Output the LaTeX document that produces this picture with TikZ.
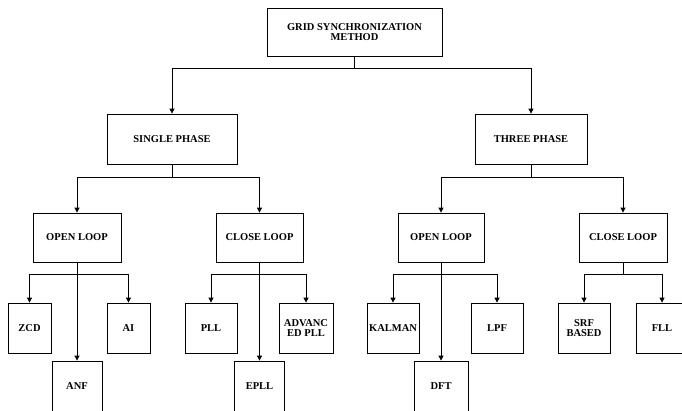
\documentclass[tikz,border=0pt]{standalone}
\usepackage{fontspec}
\setmainfont{Liberation Serif}
\usepackage{tikz}
\usetikzlibrary{arrows.meta}

\begin{document}
\begin{tikzpicture}[x=1pt, y=-1pt,
  box/.style={draw, line width=0.8pt, align=center, inner sep=1pt,
    font=\fontsize{10.5}{10.5}\selectfont\bfseries},
  link/.style={line width=0.8pt, -{Triangle[length=5pt, width=5pt]}}]
\useasboundingbox (0,0) rectangle (682,410);
\clip (0,0) rectangle (682,410);
% Root
\node[box, minimum width=175pt, minimum height=48pt] (root) at (354.5,32) {GRID SYNCHRONIZATION\\METHOD};
% Phases
\node[box, minimum width=130pt, minimum height=50pt] (single) at (172,139) {SINGLE PHASE};
\node[box, minimum width=112pt, minimum height=50pt] (three) at (531,139) {THREE PHASE};
% Loops
\node[box, minimum width=88pt, minimum height=49pt] (sopen) at (77,237.5) {OPEN LOOP};
\node[box, minimum width=87pt, minimum height=49pt] (sclose) at (259.5,237.5) {CLOSE LOOP};
\node[box, minimum width=86pt, minimum height=49pt] (topen) at (441,237.5) {OPEN LOOP};
\node[box, minimum width=88pt, minimum height=49pt] (tclose) at (623,237.5) {CLOSE LOOP};
% Methods
\node[box, minimum width=43pt, minimum height=50pt] (zcd) at (29.5,328) {ZCD};
\node[box, minimum width=43pt, minimum height=50pt] (ai) at (128.5,328) {AI};
\node[box, minimum width=50pt, minimum height=50pt] (anf) at (77,386) {ANF};
\node[box, minimum width=52pt, minimum height=50pt] (pll) at (211,328) {PLL};
\node[box, minimum width=54pt, minimum height=50pt] (apll) at (306,328) {ADVANC\\ED PLL};
\node[box, minimum width=50pt, minimum height=50pt] (epll) at (259.5,386) {EPLL};
\node[box, minimum width=52pt, minimum height=50pt] (kalman) at (393,328) {KALMAN};
\node[box, minimum width=52pt, minimum height=50pt] (lpf) at (497,328) {LPF};
\node[box, minimum width=54pt, minimum height=50pt] (dft) at (441,386) {DFT};
\node[box, minimum width=52pt, minimum height=50pt] (srf) at (584,328) {SRF\\BASED};
\node[box, minimum width=52pt, minimum height=50pt] (fll) at (662,328) {FLL};
% Root to phases
\draw[link] (root.south) -- ++(0,12) -| (single.north);
\draw[link] (root.south) -- ++(0,12) -| (three.north);
% Phases to loops
\draw[link] (single.south) -- ++(0,13) -| (sopen.north);
\draw[link] (single.south) -- ++(0,13) -| (sclose.north);
\draw[link] (three.south) -- ++(0,13) -| (topen.north);
\draw[link] (three.south) -- ++(0,13) -| (tclose.north);
% Loops to methods
\draw[link] (sopen.south) -- ++(0,12) -| (zcd.north);
\draw[link] (sopen.south) -- ++(0,12) -| (ai.north);
\draw[link] (sopen.south) -- (anf.north);
\draw[link] (sclose.south) -- ++(0,12) -| (pll.north);
\draw[link] (sclose.south) -- ++(0,12) -| (apll.north);
\draw[link] (sclose.south) -- (epll.north);
\draw[link] (topen.south) -- ++(0,12) -| (kalman.north);
\draw[link] (topen.south) -- ++(0,12) -| (lpf.north);
\draw[link] (topen.south) -- (dft.north);
\draw[link] (tclose.south) -- ++(0,12) -| (srf.north);
\draw[link] (tclose.south) -- ++(0,12) -| (fll.north);
\end{tikzpicture}
\end{document}
